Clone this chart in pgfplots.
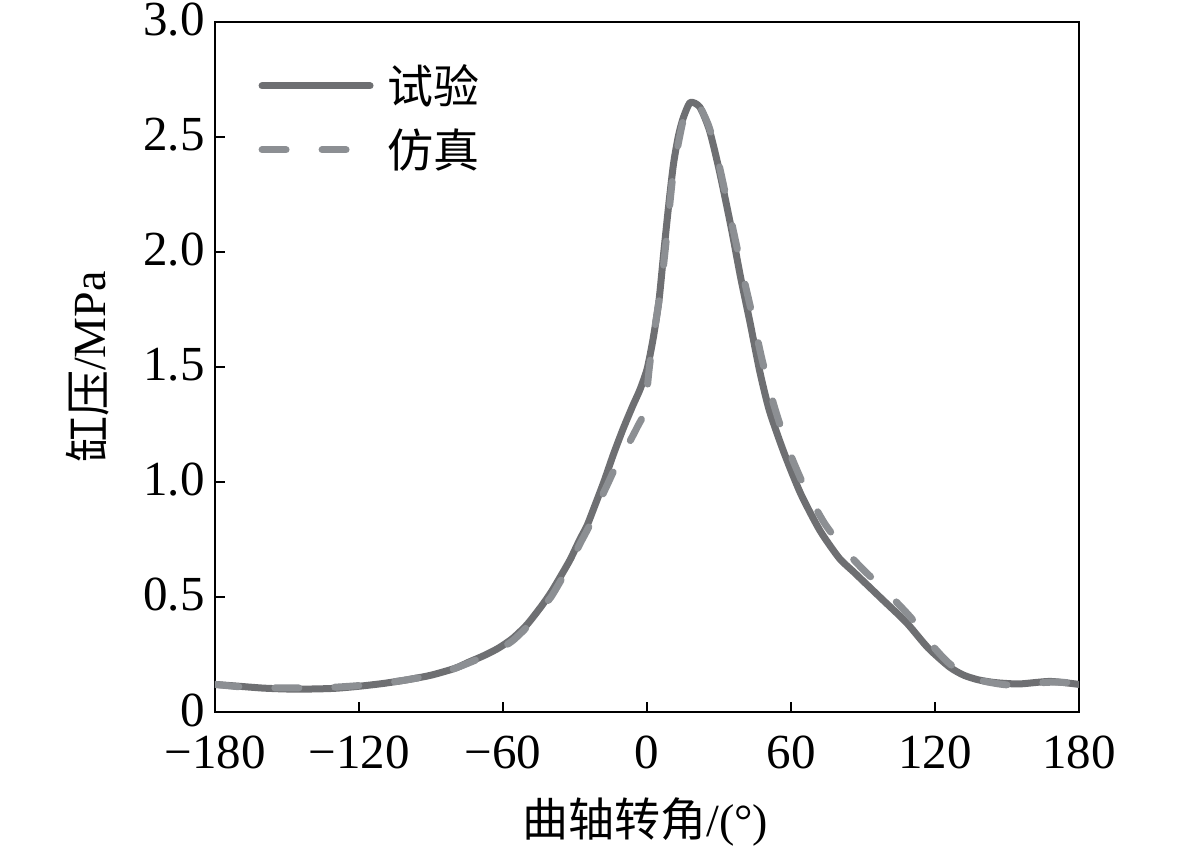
\documentclass[border=0pt]{standalone}
\usepackage{pgfplots}
\pgfplotsset{compat=1.18}
\usepackage{fontspec}
\setmainfont{Liberation Serif}
\newfontfamily\cjk{Noto Sans CJK SC}
\definecolor{expc}{RGB}{110,111,114}
\definecolor{simc}{RGB}{140,143,147}
\begin{document}
\begin{tikzpicture}
\path[use as bounding box] (-107.5pt,-68pt) rectangle (483pt,356pt);
\begin{axis}[
  scale only axis,
  width=432pt, height=345pt,
  at={(0,0)}, anchor=south west,
  xmin=-180, xmax=180, ymin=0, ymax=3,
  xtick={-180,-120,-60,0,60,120,180},
  xticklabels={−180,−120,−60,0,60,120,180},
  ytick={0,0.5,1,1.5,2,2.5,3},
  yticklabels={0,0.5,1.0,1.5,2.0,2.5,3.0},
  tick pos=left,
  tick align=inside,
  major tick length=5pt,
  axis line style={line width=1.3pt, black},
  every tick/.style={line width=1.3pt, black},
  ticklabel style={font=\fontsize{24.5pt}{29pt}\selectfont, inner sep=0.5pt},
  xticklabel style={yshift=-11pt},
  yticklabel style={xshift=-4.5pt, yshift=1pt},
  xlabel={{\cjk 曲轴转角}/(°)},
  ylabel={{\cjk 缸压}/MPa},
  label style={font=\fontsize{23pt}{27pt}\selectfont},
  xlabel style={at={(axis description cs:0.498,-0.159)}, anchor=center},
  ylabel style={at={(axis description cs:-0.147,0.5)}, anchor=center},
  legend style={draw=none, fill=none, at={(axis description cs:0.043,0.95)}, anchor=north west,
    font=\fontsize{23pt}{27pt}\selectfont\cjk, row sep=7pt},
  legend cell align=left,
  legend image code/.code={\draw[#1] (0pt,0pt) -- (54pt,0pt); \path (59pt,0pt);},
]
\addplot[expc, line width=3.5pt, line cap=round, line join=round, smooth, tension=0.4] coordinates {
(-180,0.12) (-170,0.112) (-160,0.104) (-150,0.10) (-140,0.10) (-130,0.103) (-120,0.112)
(-110,0.124) (-100,0.14) (-90,0.16) (-80,0.19) (-74,0.218) (-68,0.245) (-62,0.277)
(-56,0.32) (-50,0.38) (-44,0.46) (-40,0.52) (-36,0.59) (-32,0.663) (-28,0.75)
(-25,0.81) (-22,0.89) (-18,1.0) (-14,1.12) (-10,1.23) (-6,1.33) (-3,1.40) (0,1.49)
(2.5,1.62) (5,1.79) (7,2.0) (9,2.2) (11,2.38) (13,2.50) (15,2.58) (18,2.65) (22,2.63)
(26,2.53) (30,2.36) (35,2.11) (39,1.89) (43,1.69) (47,1.48) (51,1.31) (57,1.13)
(64,0.95) (72,0.79) (80,0.67) (86,0.61) (90,0.57) (98,0.49) (108,0.39) (117,0.28)
(126,0.196) (132,0.16) (138,0.14) (145,0.128) (155,0.122) (168,0.133) (180,0.12)
};
\addlegendentry{试验}
\addplot[simc, line width=3.5pt, line cap=round, dash pattern=on 12pt off 18pt, smooth, tension=0.4] coordinates {
(-180,0.12) (-170,0.11) (-160,0.105) (-150,0.105) (-140,0.105) (-130,0.108) (-120,0.115)
(-110,0.125) (-100,0.14) (-90,0.16) (-80,0.19) (-70,0.232) (-62,0.27) (-56,0.31) (-50,0.37)
(-44,0.45) (-40,0.50) (-36,0.57) (-32,0.645) (-28,0.73) (-24,0.81) (-20,0.91)
(-16,1.0) (-12,1.09) (-8,1.16) (-4,1.24) (-1,1.31) (1,1.50) (3,1.65) (6,1.86)
(8,2.05) (11,2.35) (15,2.57) (18,2.65) (22,2.63) (26,2.54) (30,2.38) (35,2.14)
(40,1.90) (44,1.72) (48,1.53) (53,1.33) (59,1.14) (66,0.97) (74,0.82) (82,0.71)
(90,0.62) (100,0.52) (110,0.41) (118,0.30) (125,0.22) (132,0.165) (140,0.135)
(150,0.118) (160,0.125) (170,0.13) (180,0.125)
};
\addlegendentry{仿真}
\end{axis}
\end{tikzpicture}
\end{document}
